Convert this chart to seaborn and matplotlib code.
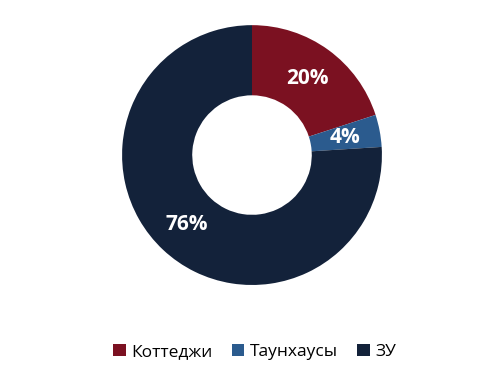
import matplotlib
matplotlib.use("Agg")
import matplotlib.pyplot as plt
import seaborn as sns

# Share by property type
categories = ["Коттеджи", "Таунхаусы", "ЗУ"]
shares = [20, 4, 76]
colors = ["#7B1121", "#2B5B8E", "#13223A"]

sns.set_theme(style="white")
plt.rcParams["font.family"] = ["Open Sans", "DejaVu Sans"]

fig = plt.figure(figsize=(5, 3.81), dpi=100)
ax = fig.add_axes([0.244, 0.252, 0.52, 0.682])

wedges, texts, autotexts = ax.pie(
    shares,
    colors=sns.color_palette(colors),
    startangle=90,
    counterclock=False,
    radius=1,
    wedgeprops=dict(width=0.54, edgecolor="none"),
    autopct="%d%%",
    pctdistance=0.73,
    textprops=dict(color="white", fontsize=15, fontweight="bold"),
)
ax.set_xlim(-1, 1)
ax.set_ylim(-1, 1)
ax.set_aspect("equal")

leg = fig.legend(
    wedges, categories,
    loc="center", bbox_to_anchor=(0.51, 0.076),
    ncol=3, frameon=False, fontsize=12.5,
    handlelength=0.7, handleheight=0.7, handletextpad=0.35, columnspacing=1.1,
)
for t in leg.get_texts():
    t.set_color("black")

fig.savefig("out.png", dpi=100)
